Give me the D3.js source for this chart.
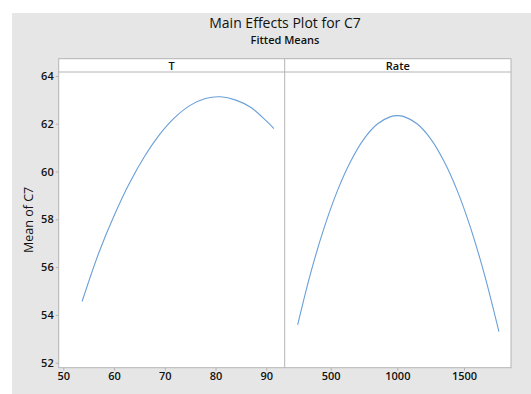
<!DOCTYPE html>
<html>
<head>
<meta charset="utf-8">
<script src="https://cdnjs.cloudflare.com/ajax/libs/d3/7.8.5/d3.min.js"></script>
<style>
  body { margin: 0; background: #fff; }
  svg text { font-family: "Open Sans", "Noto Sans", sans-serif; fill: #111; }
</style>
</head>
<body>
<svg id="chart" width="531" height="394"></svg>
<script>
'use strict';

// fitted means
var tLevels = [53.7, 57, 60, 63, 66, 69, 72, 75, 78, 81, 84, 87, 90, 91.5]
,   tMeans = [54.56, 56.6, 58.15, 59.5, 60.63, 61.56, 62.27, 62.77, 63.06, 63.13, 62.99, 62.68, 62.12, 61.8]
,   rateLevels = [252, 350, 450, 550, 650, 750, 850, 950, 1000, 1050, 1150, 1250, 1350, 1450, 1550, 1650, 1762]
,   rateMeans = [53.58, 55.76, 57.63, 59.19, 60.43, 61.37, 61.99, 62.3, 62.34, 62.3, 61.99, 61.37, 60.43, 59.19, 57.63, 55.76, 53.3]
,   yTicks = [52, 54, 56, 58, 60, 62, 64]
,   tTicks = [50, 60, 70, 80, 90]
,   rateTicks = [500, 1000, 1500]

var frame = { left: 58.7, top: 58.7, right: 511, bottom: 367.7, strip: 13.3 }
,   divider = 284.7
,   frameColor = '#b4b4b4'
,   lineColor = '#6a9fd8'

var svg = d3.select('#chart')

svg.append('rect')
  .attr('x', 12).attr('y', 13)
  .attr('width', 531 - 12).attr('height', 394 - 13)
  .attr('fill', '#e6e6e6')

var plotTop = frame.top + frame.strip

var y = d3.scaleLinear().domain([52, 64]).range([362.7, 76])

var panels = [
  { name: 'T', levels: tLevels, means: tMeans, ticks: tTicks,
    x: d3.scaleLinear().domain([50, 90]).range([63.3, 266.3]), x0: frame.left, x1: divider }
, { name: 'Rate', levels: rateLevels, means: rateMeans, ticks: rateTicks,
    x: d3.scaleLinear().domain([500, 1500]).range([330.7, 464]), x0: divider, x1: frame.right }
]

// white plotting area + strips
svg.append('rect')
  .attr('x', frame.left).attr('y', frame.top)
  .attr('width', frame.right - frame.left).attr('height', frame.bottom - frame.top)
  .attr('fill', '#fff')
  .attr('stroke', frameColor)
  .attr('stroke-width', 1)

svg.append('line')
  .attr('x1', frame.left).attr('x2', frame.right)
  .attr('y1', plotTop).attr('y2', plotTop)
  .attr('stroke', frameColor)

svg.append('line')
  .attr('x1', divider).attr('x2', divider)
  .attr('y1', frame.top).attr('y2', frame.bottom)
  .attr('stroke', frameColor)

var line = d3.line().curve(d3.curveCatmullRom)

panels.forEach(function(p) {
  svg.append('text')
    .attr('x', (p.x0 + p.x1) / 2)
    .attr('y', frame.top + 10.8)
    .attr('text-anchor', 'middle')
    .attr('font-size', 11)
    .attr('font-weight', 600)
    .text(p.name)

  var pts = p.levels.map(function(l, i) { return [p.x(l), y(p.means[i])] })

  svg.append('path')
    .attr('d', line(pts))
    .attr('fill', 'none')
    .attr('stroke', lineColor)
    .attr('stroke-width', 1.1)

  var xAxis = svg.append('g')
    .attr('transform', 'translate(0,' + frame.bottom + ')')
    .call(d3.axisBottom(p.x).tickValues(p.ticks).tickFormat(d3.format('d')).tickSize(3).tickPadding(2))

  xAxis.select('.domain').remove()
})

var yAxis = svg.append('g')
  .attr('transform', 'translate(' + frame.left + ',0)')
  .call(d3.axisLeft(y).tickValues(yTicks).tickFormat(d3.format('d')).tickSize(3).tickPadding(2))

yAxis.select('.domain').remove()

svg.selectAll('.tick line').attr('stroke', frameColor)
svg.selectAll('.tick text')
  .attr('font-size', 11)
  .attr('font-weight', 600)
  .attr('fill', '#111')

svg.append('text')
  .attr('transform', 'translate(33,' + (plotTop + frame.bottom) / 2 + ') rotate(-90)')
  .attr('text-anchor', 'middle')
  .attr('font-size', 12.5)
  .text('Mean of C7')

svg.append('text')
  .attr('x', 285).attr('y', 27.5)
  .attr('text-anchor', 'middle')
  .attr('font-size', 14)
  .text('Main Effects Plot for C7')

svg.append('text')
  .attr('x', 285).attr('y', 43.5)
  .attr('text-anchor', 'middle')
  .attr('font-size', 11)
  .attr('font-weight', 600)
  .text('Fitted Means')
</script>
</body>
</html>
